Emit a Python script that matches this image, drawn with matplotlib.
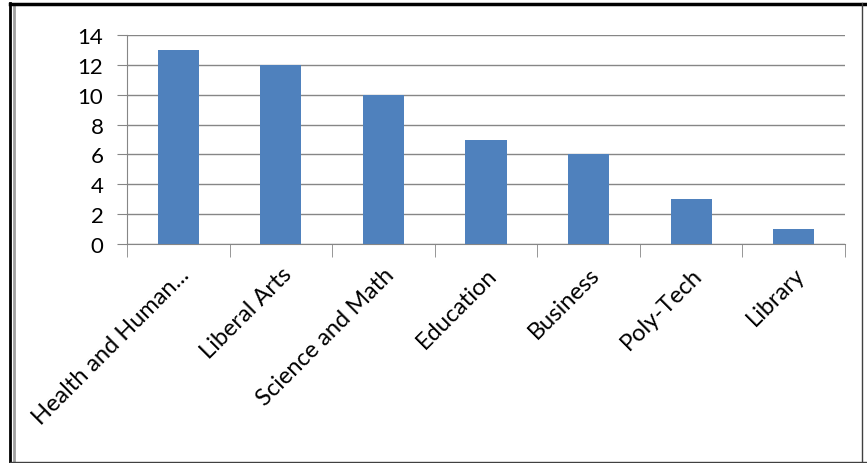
import matplotlib
matplotlib.use("Agg")
import matplotlib.pyplot as plt
from matplotlib.lines import Line2D
import numpy as np

# data
categories = ["Health and Human...", "Liberal Arts", "Science and Math",
              "Education", "Business", "Poly-Tech", "Library"]
counts = [13, 12, 10, 7, 6, 3, 1]
y_ticks = [0, 2, 4, 6, 8, 10, 12, 14]

bar_color = "#4F81BD"
grid_color = "#868686"

plt.rcParams["font.family"] = ["Lato", "DejaVu Sans"]

W, H = 867, 464
fig = plt.figure(figsize=(W / 100, H / 100), dpi=100)
ax = fig.add_axes([127 / W, 1 - 245 / H, (845 - 127) / W, (245 - 36) / H])

x = np.arange(len(categories))
ax.bar(x, counts, width=0.4, color=bar_color, zorder=3)

ax.set_xlim(-0.5, len(categories) - 0.5)
ax.set_ylim(0, 14)
ax.set_yticks(y_ticks)
ax.tick_params(axis="y", labelsize=16, length=7, color=grid_color, pad=10)
ax.yaxis.grid(True, color=grid_color, linewidth=1.0, zorder=0)

# category labels at bar centres, tick marks at category boundaries
ax.set_xticks(x)
ax.set_xticklabels(categories, rotation=45, ha="right", rotation_mode="anchor",
                   fontsize=17)
ax.tick_params(axis="x", length=0, pad=14)
ax.set_xticks(np.arange(-0.5, len(categories)), minor=True)
ax.tick_params(axis="x", which="minor", length=9, color=grid_color)

for side in ["top", "right"]:
    ax.spines[side].set_visible(False)
for side in ["left", "bottom"]:
    ax.spines[side].set_color(grid_color)

# frame around the image
fig.add_artist(Line2D([10 / W, 10 / W], [0, 1 - 4 / H], color="black", linewidth=2))
fig.add_artist(Line2D([13.5 / W, 13.5 / W], [0, 1 - 5 / H], color="#a0a0a0", linewidth=2))
fig.add_artist(Line2D([10 / W, 1], [1 - 4.5 / H, 1 - 4.5 / H], color="black", linewidth=2.5))
fig.add_artist(Line2D([10 / W, 1], [1.5 / H, 1.5 / H], color="#404040", linewidth=1))
fig.add_artist(Line2D([862 / W, 862 / W], [0, 1 - 4 / H], color="#404040", linewidth=1))

fig.savefig("out.png", dpi=100)
